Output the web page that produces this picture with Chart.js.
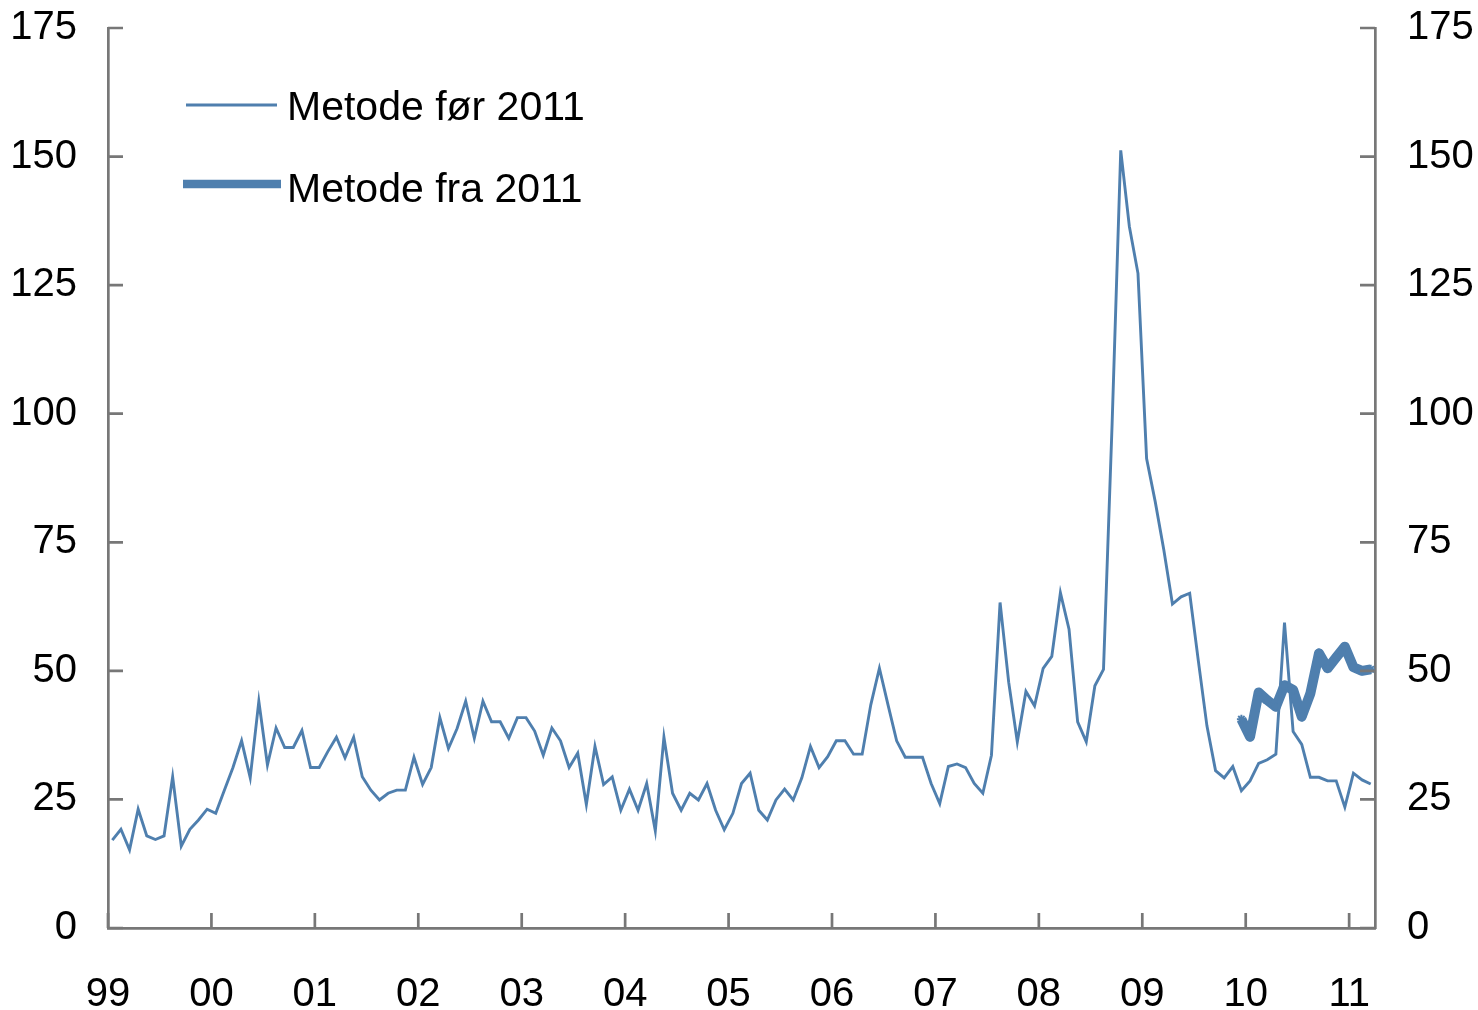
<!DOCTYPE html>
<html>
<head>
<meta charset="utf-8">
<script src="https://cdn.jsdelivr.net/npm/chart.js@4/dist/chart.umd.min.js"></script>
<style>
  html, body { margin: 0; padding: 0; background: #fff; }
  #wrap { width: 1478px; height: 1010px; position: relative; }
</style>
</head>
<body>
<div id="wrap"><canvas id="c"></canvas></div>
<script>
// Monthly observations, Jan 1999 .. Mar 2011
const startYear = 1999;
const yearLabels = ["99","00","01","02","03","04","05","06","07","08","09","10","11"];
const yTicks = [0, 25, 50, 75, 100, 125, 150, 175];

const metodeFor2011 = [
  17.1, 19.2, 15.2, 23.1, 17.9, 17.2, 17.9, 29.4, 15.9, 19.2, 21.0, 23.1,
  22.3, 26.8, 31.2, 36.4, 29.2, 44.1, 31.7, 38.9, 35.1, 35.1, 38.4, 31.2,
  31.2, 34.3, 37.1, 33.1, 37.1, 29.4, 26.8, 24.9, 26.2, 26.8, 26.8, 33.2,
  27.9, 31.2, 40.9, 34.9, 38.8, 44.1, 36.9, 44.1, 40.1, 40.1, 36.9, 40.9,
  40.9, 38.3, 33.6, 38.9, 36.4, 31.2, 34.0, 24.0, 35.3, 27.9, 29.4, 22.9,
  27.0, 22.9, 28.1, 18.9, 37.1, 26.2, 22.9, 26.2, 24.9, 28.1, 22.9, 19.1,
  22.3, 28.1, 30.1, 22.9, 21.0, 24.9, 27.0, 24.9, 29.2, 35.3, 31.2, 33.3,
  36.4, 36.4, 33.8, 33.8, 43.4, 50.5, 43.4, 36.4, 33.2, 33.2, 33.2, 28.1,
  24.2, 31.4, 31.9, 31.2, 28.1, 26.2, 33.6, 63.3, 47.8, 36.2, 46.0, 43.2,
  50.5, 52.8, 65.2, 58.1, 40.1, 36.2, 47.1, 50.3, 98.1, 151.2, 136.4, 127.3,
  91.3, 82.9, 73.5, 63.0, 64.4, 65.1, 52.0, 39.3, 30.6, 29.2, 31.4, 26.7,
  28.6, 32.0, 32.7, 33.8, 59.4, 38.2, 35.7, 29.3, 29.3, 28.6, 28.6, 23.5,
  30.1, 28.8, 28.0
];

// New method: starts Dec 2009 (month index 131)
const metodeFraStart = 131;
const metodeFra2011 = [
  40.6, 37.2, 45.8, 44.3, 43.0, 47.2, 46.3, 41.1, 45.6, 53.4, 50.5, 52.6,
  54.7, 50.7, 50.0, 50.3
];

const seriesNames = ["Metode før 2011", "Metode fra 2011"];

// ---- build points (month index centred in its month) ----
const nMonths = metodeFor2011.length;
const ptsFor = metodeFor2011.map((v, i) => ({ x: i + 0.5, y: v }));
const ptsFra = metodeFra2011.map((v, i) => ({ x: metodeFraStart + i + 0.5, y: v }));
const yearTickValues = yearLabels.map((_, i) => i * 12);

const BLUE = '#4f7fae';
const AXIS = '#777777';
const FONT = '"Liberation Sans", Arial, Helvetica, sans-serif';

function zeroPad(scale) {
  scale.paddingTop = 0;
  scale.paddingBottom = 0;
  scale.paddingLeft = 0;
  scale.paddingRight = 0;
}

const innerTicks = {
  id: 'innerTicks',
  afterDraw(chart) {
    const ctx = chart.ctx;
    const a = chart.chartArea;
    const len = 15;
    ctx.save();
    ctx.strokeStyle = AXIS;
    ctx.lineWidth = 2.7;
    ctx.beginPath();
    const xs = chart.scales.x;
    xs.ticks.forEach(t => {
      const px = xs.getPixelForValue(t.value);
      ctx.moveTo(px, a.bottom);
      ctx.lineTo(px, a.bottom - len);
    });
    const yl = chart.scales.y;
    yl.ticks.forEach(t => {
      const py = yl.getPixelForValue(t.value);
      ctx.moveTo(a.left, py);
      ctx.lineTo(a.left + len, py);
    });
    const yr = chart.scales.y2;
    yr.ticks.forEach(t => {
      const py = yr.getPixelForValue(t.value);
      ctx.moveTo(a.right, py);
      ctx.lineTo(a.right - len, py);
    });
    ctx.stroke();
    ctx.restore();
  }
};

const innerLegend = {
  id: 'innerLegend',
  afterDraw(chart) {
    const ctx = chart.ctx;
    const a = chart.chartArea;
    ctx.save();
    ctx.font = '41px ' + FONT;
    ctx.fillStyle = '#000';
    ctx.textBaseline = 'alphabetic';
    ctx.textAlign = 'left';
    const rows = [
      { x1: 78, x2: 169, ly: 77, ty: 91.5, w: 2.8 },
      { x1: 75, x2: 173, ly: 156, ty: 173.7, w: 8.5 }
    ];
    chart.data.datasets.forEach((ds, i) => {
      const r = rows[i];
      ctx.strokeStyle = ds.borderColor;
      ctx.lineWidth = r.w;
      ctx.lineCap = 'butt';
      ctx.beginPath();
      ctx.moveTo(a.left + r.x1, a.top + r.ly);
      ctx.lineTo(a.left + r.x2, a.top + r.ly);
      ctx.stroke();
      ctx.fillText(ds.label, a.left + 179, a.top + r.ty);
    });
    ctx.restore();
  }
};

new Chart(document.getElementById('c'), {
  type: 'line',
  data: {
    datasets: [
      {
        label: seriesNames[0],
        data: ptsFor,
        borderColor: BLUE,
        borderWidth: 2.9,
        pointRadius: 0,
        tension: 0,
        yAxisID: 'y'
      },
      {
        label: seriesNames[1],
        data: ptsFra,
        borderColor: BLUE,
        backgroundColor: BLUE,
        borderWidth: 10,
        borderJoinStyle: 'round',
        borderCapStyle: 'butt',
        pointStyle: 'star',
        pointRadius: 4.5,
        pointBorderWidth: 2,
        pointBorderColor: BLUE,
        tension: 0,
        yAxisID: 'y'
      }
    ]
  },
  options: {
    responsive: true,
    maintainAspectRatio: false,
    animation: false,
    layout: { padding: { top: 28, right: 0, bottom: 0, left: 0 } },
    plugins: {
      legend: { display: false },
      tooltip: { enabled: false }
    },
    scales: {
      x: {
        type: 'linear',
        position: 'bottom',
        min: 0,
        max: nMonths,
        afterBuildTicks(scale) {
          scale.ticks = yearTickValues.map(v => ({ value: v }));
        },
        afterFit(scale) { scale.height = 82; zeroPad(scale); },
        grid: { display: false, drawTicks: false },
        border: { display: true, color: AXIS, width: 2.7 },
        ticks: {
          autoSkip: false,
          maxRotation: 0,
          padding: 47,
          color: '#000',
          font: { family: FONT, size: 40, lineHeight: 1.0 },
          callback(value) {
            const i = Math.round(value / 12);
            return yearLabels[i];
          }
        }
      },
      y: {
        position: 'left',
        min: 0,
        max: 175,
        afterBuildTicks(scale) {
          scale.ticks = yTicks.map(v => ({ value: v }));
        },
        afterFit(scale) { scale.width = 108; zeroPad(scale); },
        grid: { display: false, drawTicks: false },
        border: { display: true, color: AXIS, width: 2.7 },
        ticks: {
          padding: 31,
          color: '#000',
          font: { family: FONT, size: 40 }
        }
      },
      y2: {
        position: 'right',
        min: 0,
        max: 175,
        afterBuildTicks(scale) {
          scale.ticks = yTicks.map(v => ({ value: v }));
        },
        afterFit(scale) { scale.width = 103; zeroPad(scale); },
        grid: { display: false, drawTicks: false },
        border: { display: true, color: AXIS, width: 2.7 },
        ticks: {
          padding: 32,
          color: '#000',
          font: { family: FONT, size: 40 }
        }
      }
    }
  },
  plugins: [innerTicks, innerLegend]
});
</script>
</body>
</html>
